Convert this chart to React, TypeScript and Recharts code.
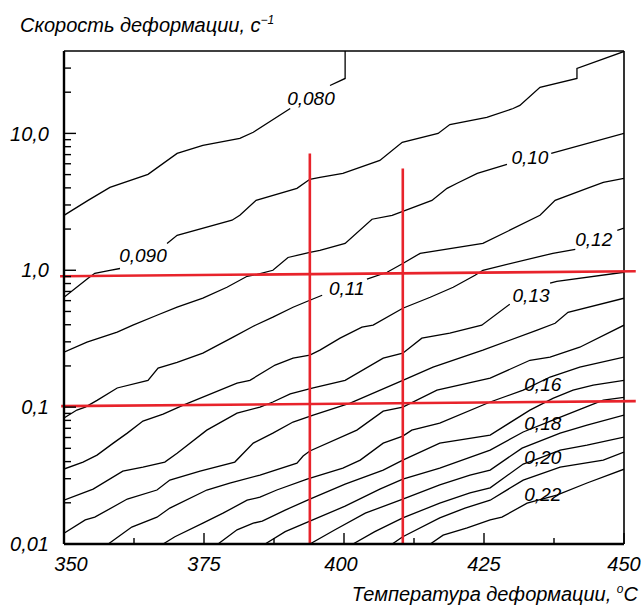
import React from 'react';
import { ComposedChart, Line, Scatter, XAxis, YAxis, ReferenceLine } from 'recharts';

type Pt = [number, number] | null;

// Temperature axis, °C
const X_TICKS = [350, 362.5, 375, 387.5, 400, 412.5, 425, 437.5, 450];
const X_MAJOR = [350, 375, 400, 425, 450];

// Strain rate axis, 1/s (log scale)
const Y_MAJOR = [0.01, 0.1, 1, 10];
const Y_STEPS = [1, 2, 3, 4, 5, 6, 7, 8, 9];
const Y_TEXT: Record<string, string> = { '0.01': '0,01', '0.1': '0,1', '1': '1,0', '10': '10,0' };

// Iso-lines, [temperature, strain rate]; null marks a break for the inline label
const c08: Pt[] = [[350, 2.52], [354.3, 3.24], [358.2, 4.03], [365, 5.02], [370.2, 7.14], [374.8, 8.17], [381.4, 9.2], [383.8, 10.2], [390.4, 15.2], null, [397.5, 22.4], [400.2, 25.2], [400.2, 40]];
const c09: Pt[] = [[350, 0.635], [354.3, 0.874], [355.5, 0.951], [358.2, 1.0], [360, 1.03], null, [368.4, 1.57], [370.2, 1.8], [380, 2.32], [381.4, 2.52], [384.3, 3.24], [391.6, 3.97], [393.9, 4.62], [395.7, 4.77], [399.8, 5.11], [406.4, 6.35], [410.4, 8.6], [416.8, 10], [418.9, 11.6], [425.5, 13.1], [430.2, 15.2], [431.4, 16], [435, 21.7], [441.6, 25.2], [441.6, 29.8], [450, 39.7]];
const c10: Pt[] = [[350, 0.252], [354.1, 0.298], [359.5, 0.353], [362.3, 0.397], [366.6, 0.469], [370.2, 0.537], [374.8, 0.625], [379.1, 0.751], [382.7, 0.904], [384.5, 0.935], [387.3, 1.0], [390, 1.24], [393.9, 1.35], [395.7, 1.4], [400.2, 1.57], [405, 2.36], [408.6, 2.52], [415.7, 3.24], [418.4, 3.97], [420.2, 4.32], [423.8, 5.11], [429.1, 5.94], null, [437, 7.14], [450, 10]];
const c11: Pt[] = [[350, 0.0832], [352.3, 0.0952], [353.8, 0.1], [355.9, 0.112], [359.5, 0.138], [365, 0.157], [366.8, 0.193], [370.2, 0.212], [374.8, 0.248], [380.2, 0.325], [383.8, 0.39], [387.3, 0.454], [390.9, 0.537], [393.9, 0.604], [396.1, 0.657], null, [404.1, 0.86], [407.7, 0.967], [410.5, 1.12], [413.6, 1.33], [424.8, 1.57], [435, 2.52], [437.7, 3.24], [443.4, 3.97], [446.3, 4.39], [450, 4.69]];
const c12: Pt[] = [[350, 0.0353], [353.4, 0.0397], [355.9, 0.0446], [358.8, 0.0546], [361.3, 0.0646], [364.1, 0.0791], [367.7, 0.0889], [371.3, 0.1035], [380.9, 0.15], [383.2, 0.157], [387.7, 0.203], [390.9, 0.228], [393.9, 0.24], [395.7, 0.261], [399.3, 0.319], [403.2, 0.384], [405.2, 0.397], [410.5, 0.528], [415.4, 0.635], [419.5, 0.751], [423.4, 0.919], [424.8, 1.0], [437.3, 1.33], [441.3, 1.42], null, [448.8, 1.96], [450, 2.03]];
const c13: Pt[] = [[350, 0.0209], [355.2, 0.0252], [360.5, 0.0341], [364.1, 0.0365], [368, 0.0397], [370.2, 0.0461], [375.5, 0.0679], [380.9, 0.0904], [385, 0.1], [387.3, 0.109], [390.4, 0.125], [394.5, 0.138], [400.2, 0.157], [407, 0.228], [410.5, 0.248], [413.9, 0.319], [418.9, 0.347], [424.6, 0.397], [429.6, 0.565], null, [436.8, 0.804], [438, 0.831], [450, 0.967]];
const c14: Pt[] = [[350, 0.012], [353.8, 0.015], [355.5, 0.0157], [361.3, 0.0213], [366.6, 0.0248], [368.9, 0.0293], [374.3, 0.0341], [380.5, 0.0397], [383.8, 0.0546], [387.3, 0.0646], [390.9, 0.0778], [394.5, 0.0875], [401.1, 0.107], [410.5, 0.157], [415.9, 0.196], [424.8, 0.261], [434.5, 0.365], [437.7, 0.41], [440, 0.493], [450, 0.625]];
const c15: Pt[] = [[357.9, 0.01], [362.1, 0.0133], [366.6, 0.0157], [368.9, 0.0183], [375.5, 0.0248], [379.6, 0.0279], [385, 0.0319], [391.6, 0.039], [392.7, 0.0439], [393.9, 0.0478], [402.3, 0.0679], [407, 0.0935], [410.5, 0.1], [416.6, 0.133], [426.1, 0.163], [433.2, 0.22], [436.8, 0.232], [442.1, 0.274], [450, 0.397]];
const c16: Pt[] = [[367.7, 0.01], [369.8, 0.0113], [374.8, 0.0142], [378.4, 0.0168], [382.7, 0.0209], [385, 0.022], [388, 0.0248], [393.4, 0.0298], [399.8, 0.0359], [402.9, 0.041], [407, 0.0546], [410.5, 0.0614], [412.1, 0.0679], [417.1, 0.0764], [426.1, 0.109], [432, 0.133], [436.8, 0.166], [442.1, 0.196], [450, 0.232]];
const c17: Pt[] = [[377.5, 0.01], [380.9, 0.0127], [383.8, 0.0142], [385.4, 0.0147], [389.5, 0.0177], [393.9, 0.0213], [400.2, 0.0274], [407, 0.0347], [410.5, 0.041], [417.1, 0.0546], [426.1, 0.0625], [433.2, 0.0951], [437.3, 0.116], [440.9, 0.133], [444.5, 0.145], [450, 0.157]];
const c18: Pt[] = [[385.9, 0.01], [389.5, 0.0123], [393.9, 0.0147], [400.2, 0.0189], [406.4, 0.0252], [410.5, 0.0298], [417.1, 0.0359], [426.1, 0.0485], [432, 0.0658], [437.3, 0.0804], [442.7, 0.0984], [446.3, 0.1125], [450, 0.118]];
const c19: Pt[] = [[393.9, 0.01], [398.4, 0.0127], [403.8, 0.0168], [410.5, 0.0213], [417.1, 0.027], [422.5, 0.0319], [426.1, 0.0347], [431.8, 0.0502], [438.6, 0.0646], [443.4, 0.074], [450, 0.0875]];
const c20: Pt[] = [[401.6, 0.01], [405.5, 0.0123], [410.5, 0.0155], [417.1, 0.0199], [422.5, 0.0236], [426.1, 0.0257], [432, 0.0384], [435.4, 0.0432], [438.6, 0.0485], [443.4, 0.0528], [450, 0.0604]];
const c21: Pt[] = [[408.6, 0.01], [410.5, 0.0113], [417.1, 0.0155], [421.6, 0.0183], [426.1, 0.0209], [432, 0.0293], [438.6, 0.0365], [446.3, 0.041], [450, 0.047]];
const c22: Pt[] = [[415.4, 0.01], [417.7, 0.0116], [422, 0.0131], [426.1, 0.015], [428.2, 0.0157], [432.7, 0.0199], [438, 0.0228], [443.4, 0.0279], [450, 0.0352]];

const CONTOURS = [c08, c09, c10, c11, c12, c13, c14, c15, c16, c17, c18, c19, c20, c21, c22];

// Inline level labels
const LABEL_TEXT = ['0,080', '0,090', '0,10', '0,11', '0,12', '0,13', '0,16', '0,18', '0,20', '0,22'];
const LABEL_X = [394.1, 364.1, 433.2, 400.5, 444.6, 433.4, 435.5, 435.5, 435.5, 435.5];
const LABEL_Y = [18.0, 1.29, 6.68, 0.739, 1.68, 0.657, 0.147, 0.0764, 0.0432, 0.0232];

// Red guide lines: two rate levels and two temperatures
const GUIDE_H = [[[349.3, 0.904], [452.1, 0.983]], [[349.5, 0.1017], [452.1, 0.1106]]];
const GUIDE_V = [[[393.9, 0.01], [393.9, 7.14]], [[410.5, 0.01], [410.5, 5.55]]];

const FONT = '"Liberation Sans", Arial, Helvetica, sans-serif';
const RED = '#e8232b';

const yTicks = Y_MAJOR.flatMap(d => Y_STEPS.map(m => +(d * m).toPrecision(3))).filter(v => v < 40);
const toRows = (pts: Pt[]) => pts.map(p => (p ? { x: p[0], y: p[1] } : { x: null, y: null }));
const labelRows = LABEL_TEXT.map((text, i) => ({ x: LABEL_X[i], y: LABEL_Y[i], text }));

const YTick = (props: any) => {
  const { x, y, payload } = props;
  const major = Y_MAJOR.includes(payload.value);
  return (
    <g>
      <line x1={x} x2={x + (major ? 12 : 7)} y1={y} y2={y} stroke="#000" strokeWidth={1.4} />
      {major && (
        <text x={x - 15} y={y} dy="0.36em" textAnchor="end" fontSize={20} fontStyle="italic" fontFamily={FONT} fill="#000">
          {Y_TEXT[String(payload.value)]}
        </text>
      )}
    </g>
  );
};

const XTick = (props: any) => {
  const { x, y, payload } = props;
  const major = X_MAJOR.includes(payload.value);
  const shift = payload.value === 350 ? 7 : payload.value === 400 ? -3 : 0;
  return (
    <g>
      <line x1={x} x2={x} y1={y} y2={y - (major ? 11 : 6)} stroke="#000" strokeWidth={1.4} />
      {major && (
        <text x={x + shift} y={y + 27} textAnchor="middle" fontSize={20} fontStyle="italic" fontFamily={FONT} fill="#000">
          {payload.value}
        </text>
      )}
    </g>
  );
};

const LevelLabel = (props: any) => (
  <text x={props.cx} y={props.cy} dy="0.36em" textAnchor="middle" fontSize={19} fontStyle="italic" fontFamily={FONT} fill="#000">
    {props.payload.text}
  </text>
);

export default function App() {
  return (
    <div style={{ position: 'relative', width: 641, height: 605, background: '#fff' }}>
      <style>{'body{margin:0}'}</style>
      <ComposedChart width={641} height={605} margin={{ top: 51, right: 17, left: 0, bottom: 0 }}>
        <XAxis
          type="number"
          dataKey="x"
          domain={[350, 450]}
          allowDataOverflow
          ticks={X_TICKS}
          tick={<XTick />}
          tickLine={false}
          tickSize={0}
          tickMargin={0}
          height={61}
          axisLine={{ stroke: '#000', strokeWidth: 2.4 }}
          interval={0}
        />
        <YAxis
          type="number"
          dataKey="y"
          scale="log"
          domain={[0.01, 40]}
          allowDataOverflow
          ticks={yTicks}
          tick={<YTick />}
          tickLine={false}
          tickSize={0}
          tickMargin={0}
          width={64}
          axisLine={{ stroke: '#000', strokeWidth: 2.4 }}
          interval={0}
        />
        <ReferenceLine y={40} stroke="#000" strokeWidth={1.6} />
        <ReferenceLine x={450} stroke="#000" strokeWidth={1.6} />
        {CONTOURS.map((pts, i) => (
          <Line
            key={i}
            data={toRows(pts)}
            dataKey="y"
            type="linear"
            stroke="#000"
            strokeWidth={1.3}
            dot={false}
            activeDot={false}
            isAnimationActive={false}
          />
        ))}
        <Scatter data={labelRows} dataKey="y" shape={<LevelLabel />} isAnimationActive={false} />
        {[...GUIDE_H, ...GUIDE_V].map((seg, i) => (
          <ReferenceLine
            key={`g${i}`}
            segment={[{ x: seg[0][0], y: seg[0][1] }, { x: seg[1][0], y: seg[1][1] }]}
            stroke={RED}
            strokeWidth={2.6}
            ifOverflow="visible"
          />
        ))}
      </ComposedChart>
      <svg width={641} height={605} style={{ position: 'absolute', left: 0, top: 0, pointerEvents: 'none' }}>
        <text x={20} y={32} fontSize={20} fontStyle="italic" fontFamily={FONT} fill="#000">
          Скорость деформации, с<tspan dy={-8} fontSize={12}>−1</tspan>
        </text>
        <text x={638} y={601} textAnchor="end" fontSize={20} fontStyle="italic" fontFamily={FONT} fill="#000">
          Температура деформации, <tspan dy={-8} fontSize={12}>o</tspan><tspan dy={8}>C</tspan>
        </text>
      </svg>
    </div>
  );
}
